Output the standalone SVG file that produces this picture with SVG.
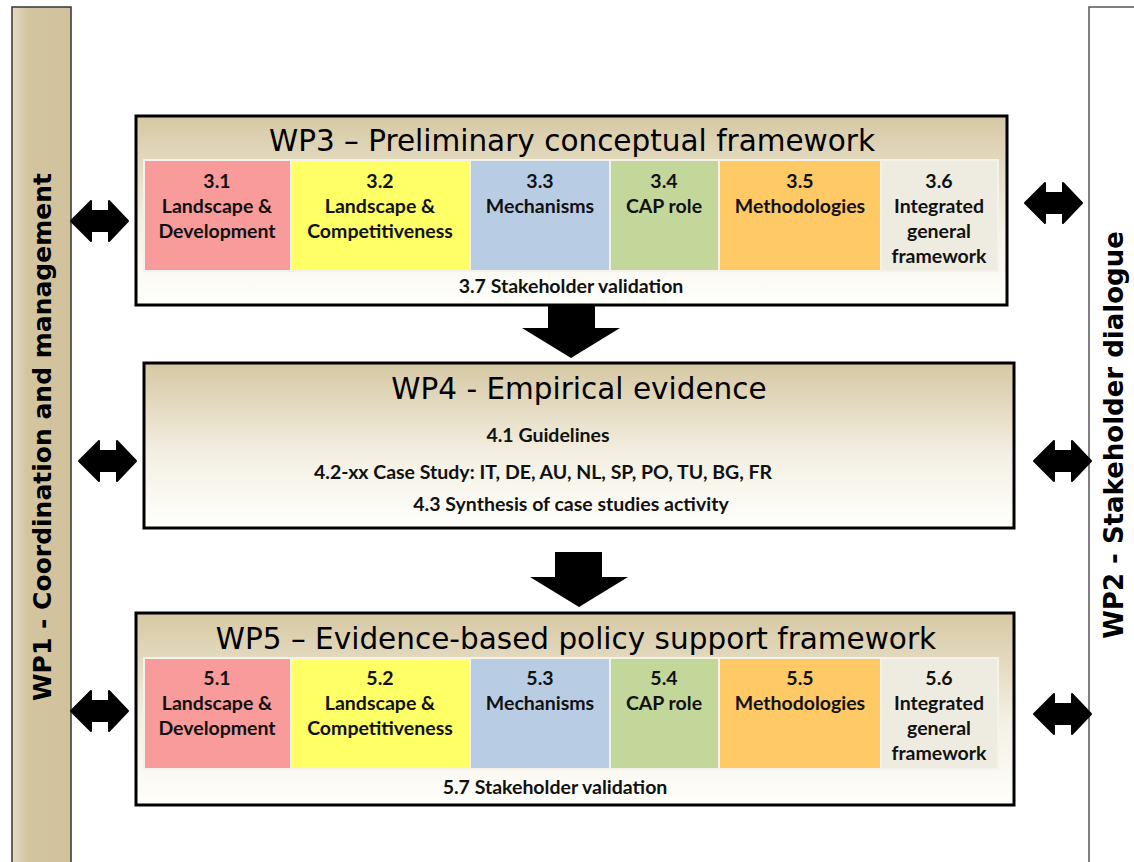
<svg xmlns="http://www.w3.org/2000/svg" width="1134" height="862" viewBox="0 0 1134 862">
<style>
.title{font-family:"DejaVu Sans",sans-serif;font-size:29.5px;fill:#000;text-anchor:middle}
.cell{font-family:"Lato","Liberation Sans",sans-serif;font-weight:bold;font-size:19.5px;fill:#111;text-anchor:middle}
.side{font-family:"DejaVu Sans",sans-serif;font-weight:bold;font-size:25px;fill:#000;text-anchor:middle}
.box{stroke:#000;stroke-width:3;fill:url(#boxg)}
.arr{fill:#000;stroke:#000;stroke-width:2;stroke-linejoin:round}
.down{fill:#000}
</style>
<defs>
<linearGradient id="boxg" x1="0" y1="0" x2="0" y2="1">
<stop offset="0" stop-color="#d6c8a3"/>
<stop offset="0.55" stop-color="#f3efe2"/>
<stop offset="1" stop-color="#fffffc"/>
</linearGradient>
<linearGradient id="barg" x1="0" y1="0" x2="1" y2="0">
<stop offset="0" stop-color="#e6dcc4"/>
<stop offset="0.25" stop-color="#d4c5a1"/>
<stop offset="1" stop-color="#d1c29d"/>
</linearGradient>
<path id="dbl" d="M0,0 L20,-20 L20,-10 L38,-10 L38,-20 L57,0 L38,20 L38,10 L20,10 L20,20 Z"/>
</defs>
<rect width="1134" height="862" fill="#fff"/>

<g id="wp1">
<rect x="12" y="7" width="59" height="870" fill="url(#barg)" stroke="#333" stroke-width="1.5"/>
<text class="side" transform="translate(51,437) rotate(-90)">WP1 - Coordination and management</text>
</g>

<g id="wp2">
<rect x="1089" y="7" width="60" height="870" fill="#fff" stroke="#555" stroke-width="1.5"/>
<text class="side" style="font-size:26px" transform="translate(1123,435) rotate(-90)">WP2 - Stakeholder dialogue</text>
</g>

<g id="wp3">
<rect class="box" x="136" y="116" width="871" height="189"/>
<text class="title" x="572" y="151">WP3 – Preliminary conceptual framework</text>
<rect x="143" y="159" width="856" height="113" fill="#f4f2ea"/>
<rect x="145" y="161" width="145" height="109" fill="#f99b9b"/>
<rect x="292" y="161" width="177" height="109" fill="#ffff66"/>
<rect x="471" y="161" width="138" height="109" fill="#b8cce4"/>
<rect x="611" y="161" width="107" height="109" fill="#c4d79b"/>
<rect x="720" y="161" width="160" height="109" fill="#ffc966"/>
<rect x="882" y="161" width="115" height="109" fill="#eeece1"/>
<text class="cell" x="217" y="188">3.1</text>
<text class="cell" x="217" y="213">Landscape &amp;</text>
<text class="cell" x="217" y="238">Development</text>
<text class="cell" x="380" y="188">3.2</text>
<text class="cell" x="380" y="213">Landscape  &amp;</text>
<text class="cell" x="380" y="238">Competitiveness</text>
<text class="cell" x="540" y="188">3.3</text>
<text class="cell" x="540" y="213">Mechanisms</text>
<text class="cell" x="664" y="188">3.4</text>
<text class="cell" x="664" y="213">CAP role</text>
<text class="cell" x="800" y="188">3.5</text>
<text class="cell" x="800" y="213">Methodologies</text>
<text class="cell" x="939" y="188">3.6</text>
<text class="cell" x="939" y="213">Integrated</text>
<text class="cell" x="939" y="238">general</text>
<text class="cell" x="939" y="263">framework</text>
<text class="cell" x="571" y="293">3.7 Stakeholder validation</text>
</g>

<g id="wp4">
<rect class="box" x="144" y="363" width="870" height="165"/>
<text class="title" x="579" y="399">WP4 - Empirical evidence</text>
<text class="cell" x="548" y="442">4.1 Guidelines</text>
<text class="cell" x="543" y="479">4.2-xx Case Study: IT, DE, AU, NL, SP, PO, TU, BG, FR</text>
<text class="cell" x="571" y="511">4.3 Synthesis of case studies activity</text>
</g>

<g id="wp5">
<rect class="box" x="136" y="613" width="878" height="192"/>
<text class="title" x="576" y="649">WP5 – Evidence-based policy support framework</text>
<rect x="143" y="657" width="856" height="113" fill="#f4f2ea"/>
<rect x="145" y="659" width="145" height="109" fill="#f99b9b"/>
<rect x="292" y="659" width="177" height="109" fill="#ffff66"/>
<rect x="471" y="659" width="138" height="109" fill="#b8cce4"/>
<rect x="611" y="659" width="107" height="109" fill="#c4d79b"/>
<rect x="720" y="659" width="160" height="109" fill="#ffc966"/>
<rect x="882" y="659" width="115" height="109" fill="#eeece1"/>
<text class="cell" x="217" y="685">5.1</text>
<text class="cell" x="217" y="710">Landscape &amp;</text>
<text class="cell" x="217" y="735">Development</text>
<text class="cell" x="380" y="685">5.2</text>
<text class="cell" x="380" y="710">Landscape  &amp;</text>
<text class="cell" x="380" y="735">Competitiveness</text>
<text class="cell" x="540" y="685">5.3</text>
<text class="cell" x="540" y="710">Mechanisms</text>
<text class="cell" x="664" y="685">5.4</text>
<text class="cell" x="664" y="710">CAP role</text>
<text class="cell" x="800" y="685">5.5</text>
<text class="cell" x="800" y="710">Methodologies</text>
<text class="cell" x="939" y="685">5.6</text>
<text class="cell" x="939" y="710">Integrated</text>
<text class="cell" x="939" y="735">general</text>
<text class="cell" x="939" y="760">framework</text>
<text class="cell" x="555" y="794">5.7 Stakeholder validation</text>
</g>

<g id="connectors">
<path class="down" d="M548,305 L595,305 L595,328 L620,328 L571,358 L522,328 L548,328 Z"/>
<path class="down" d="M555,552 L602,552 L602,577 L628,577 L579,607 L530,577 L555,577 Z"/>
<use href="#dbl" class="arr" transform="translate(71,221)"/>
<use href="#dbl" class="arr" transform="translate(79,461)"/>
<use href="#dbl" class="arr" transform="translate(71,711)"/>
<use href="#dbl" class="arr" transform="translate(1025,203)"/>
<use href="#dbl" class="arr" transform="translate(1034,461)"/>
<use href="#dbl" class="arr" transform="translate(1034,714)"/>
</g>
</svg>
